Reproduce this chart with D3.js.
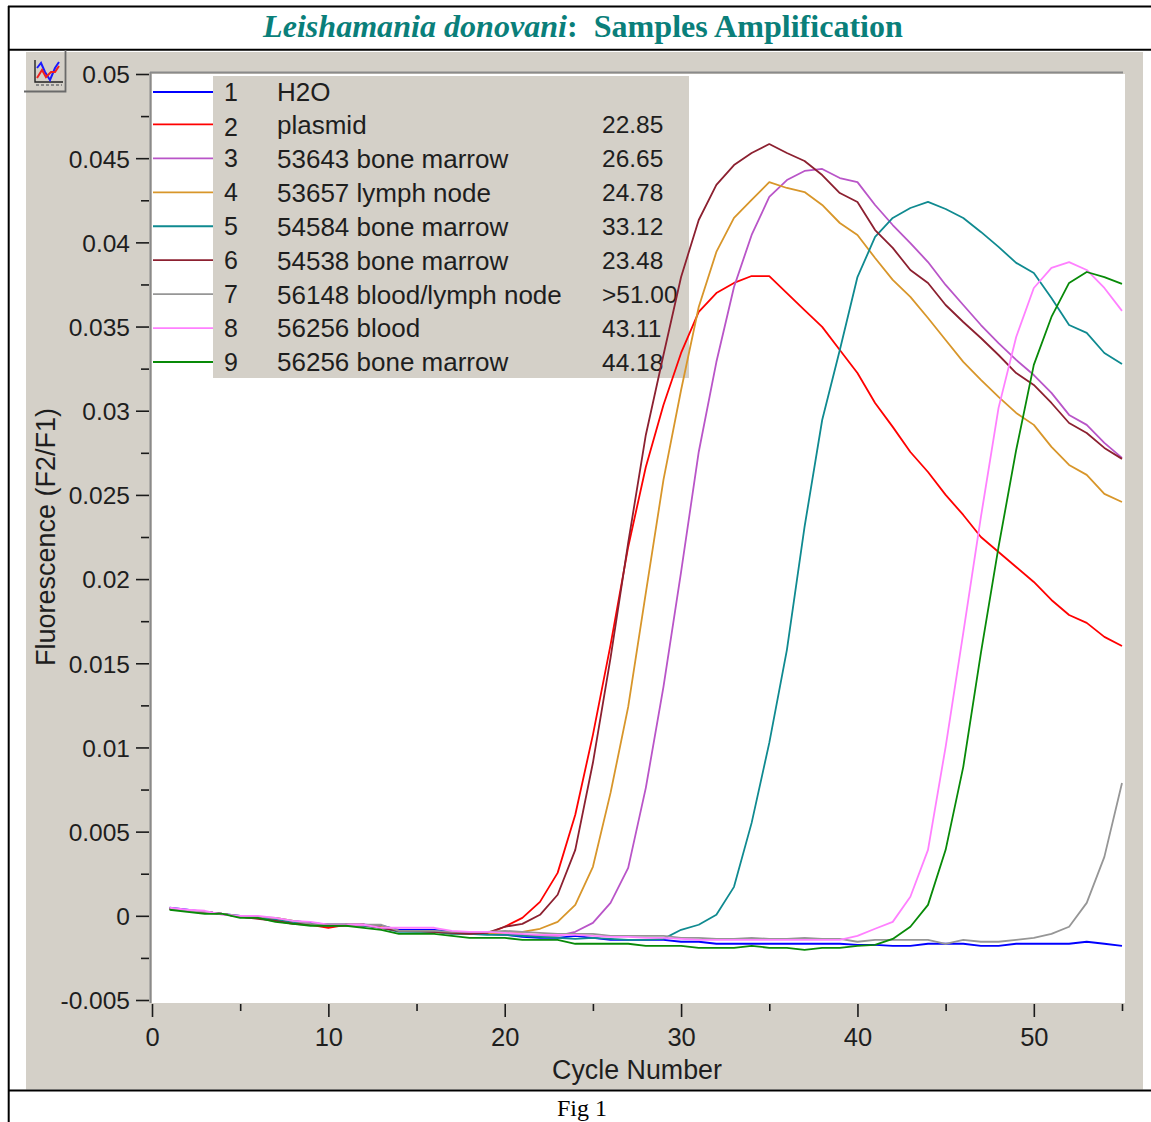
<!DOCTYPE html>
<html><head><meta charset="utf-8"><script src="https://cdn.jsdelivr.net/npm/d3@7"></script>
<style>html,body{margin:0;padding:0;background:#fff;overflow:hidden}svg{display:block}</style></head>
<body><div id="chart"></div>
<script>
const titleItalic = "Leishamania donovani";
const titleBold = ":  Samples Amplification";
const caption = "Fig 1";
const xTitle = "Cycle Number";
const yTitle = "Fluorescence (F2/F1)";
const xMajor = [0,10,20,30,40,50];
const xMinor = [5,15,25,35,45,55];
const yMajor = [0.05,0.045,0.04,0.035,0.03,0.025,0.02,0.015,0.01,0.005,0,-0.005];
const yMinor = [0.0475,0.0425,0.0375,0.0325,0.0275,0.0225,0.0175,0.0125,0.0075,0.0025,-0.0025];
const ids = [1,2,3,4,5,6,7,8,9];
const names = ["H2O","plasmid","53643 bone marrow","53657 lymph node","54584 bone marrow","54538 bone marrow","56148 blood/lymph node","56256 blood","56256 bone marrow"];
const cts = ["","22.85","26.65","24.78","33.12","23.48",">51.00","43.11","44.18"];
const colors = ["#0000ff","#ff0000","#b955c8","#d8962a","#0f8a90","#8c2030","#969696","#ff80ff","#088a08"];
const cycles = d3.range(1,56);

const s1 = [.00048,.00036,.00024,.00012,0,-.00006,-.0003,-.0003,-.00042,-.00053,-.00053,-.00053,-.00059,-.00083,-.00083,-.00083,-.00095,-.00101,-.00107,
 -.00113,-.00125,-.00131,-.00131,-.00119,-.00131,-.00143,-.00143,-.00143,-.00143,-.00154,-.00154,-.00166,-.00166,-.00166,-.00166,-.00166,-.00166,-.00166,-.00166,-.00172,-.00172,-.00178,-.00178,-.00166,-.00166,-.00166,-.00178,-.00178,-.00166,-.00166,-.00166,-.00166,-.00154,-.00166,-.00178];
const s2 = [.00042,.0003,.00024,.00012,-.00006,-.00012,-.00024,-.00042,-.00053,-.00071,-.00053,-.00053,-.00071,-.00089,-.00089,-.00095,-.00101,-.00107,-.00107,
 -.00065,-.00012,.00083,.00255,.006,.01075,.01609,.02191,.02666,.03034,.03343,.03587,.03699,.03759,.038,.038,.03699,.03598,.03498,.03361,.03224,.03046,.02904,.02755,.02636,.025,.02381,.0225,.02161,.02072,.01983,.01876,.01787,.0174,.01657,.01603];
const s3 = [.00042,.0003,.00024,.00012,-.00006,-.00012,-.00024,-.00036,-.00048,-.00053,-.00053,-.00059,-.00065,-.00089,-.00089,-.00095,-.00101,-.00107,-.00107,
 -.00113,-.00113,-.00119,-.00119,-.00095,-.00042,.00077,.00285,.0076,.0136,.02043,.02755,.03289,.03735,.04044,.0427,.0437,.04424,.04436,.04382,.04358,.04222,.04103,.03996,.03883,.03747,.03628,.03509,.03402,.03302,.03212,.03106,.02975,.02916,.02809,.0272];
const s4 = [.00042,.0003,.00024,.00012,-.00006,-.00012,-.00012,-.0003,-.00048,-.00053,-.00053,-.00059,-.00065,-.00089,-.00095,-.00095,-.00107,-.00107,-.00107,
 -.00101,-.00095,-.00077,-.00036,.00065,.00291,.0073,.01241,.01918,.02589,.03123,.03616,.03943,.04145,.04252,.04358,.04323,.04299,.04222,.04115,.04044,.03907,.03777,.03676,.03551,.0342,.0329,.03183,.03082,.02987,.02916,.02785,.02678,.02619,.02506,.02458];
const s5 = [.00042,.0003,.00024,.00012,-.00006,-.00012,-.00024,-.00036,-.00048,-.00053,-.00053,-.00059,-.00071,-.00095,-.00095,-.00095,-.00107,-.00107,-.00113,
 -.00113,-.00119,-.00125,-.00131,-.00137,-.00131,-.00137,-.00143,-.00143,-.00137,-.00083,-.00053,.00006,.00172,.00552,.01027,.0158,.0231,.02945,.03361,.03794,.04032,.04145,.04204,.0424,.04198,.04145,.04062,.03973,.03878,.03818,.0367,.03509,.03462,.03343,.03278];
const s6 = [.00042,.0003,.00018,.00012,-.00006,-.00018,-.0003,-.00048,-.00053,-.00059,-.00059,-.00053,-.00071,-.00089,-.00089,-.00095,-.00101,-.00107,-.00101,
 -.00065,-.00048,.00006,.00125,.00392,.00909,.01532,.02215,.02856,.03331,.03794,.04133,.04341,.04459,.04531,.04584,.04531,.04483,.044,.04293,.0424,.04073,.03967,.03836,.03759,.03628,.03527,.03432,.03331,.03224,.03153,.03046,.02927,.02868,.02779,.02714];
const s7 = [.00042,.0003,.00024,.00012,0,-.00006,-.00012,-.0003,-.00048,-.00053,-.00053,-.00053,-.00053,-.00089,-.00089,-.00089,-.00095,-.00095,-.00095,
 -.00089,-.00095,-.00101,-.00107,-.00107,-.00107,-.00119,-.00119,-.00119,-.00119,-.00131,-.00131,-.00137,-.00137,-.00131,-.00137,-.00137,-.00131,-.00137,-.00137,-.00154,-.00143,-.00143,-.00143,-.00143,-.00166,-.00143,-.00154,-.00154,-.00143,-.00131,-.00107,-.00065,.00077,.0035,.00789];
const s8 = [.00048,.00036,.0003,.00006,0,0,-.00012,-.0003,-.00036,-.00053,-.00053,-.00053,-.00071,-.00071,-.00071,-.00071,-.00089,-.00095,-.00095,
 -.00101,-.00107,-.00113,-.00113,-.00113,-.00119,-.00125,-.00125,-.00131,-.00131,-.00137,-.00143,-.00143,-.00143,-.00143,-.00143,-.00143,-.00143,-.00143,-.00143,-.00119,-.00077,-.00036,.00113,.00392,.01004,.0168,.02369,.03017,.03438,.03729,.03848,.03883,.03836,.03729,.03593];
const s9 = [.00036,.00024,.00012,.00012,-.00012,-.00012,-.00036,-.00048,-.00059,-.00059,-.00059,-.00071,-.00083,-.00107,-.00107,-.00107,-.00119,-.00131,-.00131,
 -.00131,-.00143,-.00143,-.00143,-.00166,-.00166,-.00166,-.00166,-.00178,-.00178,-.00178,-.0019,-.0019,-.0019,-.00178,-.0019,-.0019,-.00202,-.0019,-.0019,-.00178,-.00172,-.00137,-.00065,.00065,.00392,.00885,.01562,.02191,.02767,.03272,.03557,.03759,.03824,.03794,.03753];
const series = [s1,s2,s3,s4,s5,s6,s7,s8,s9];

const W = 1151, H = 1122;
const font = "'Liberation Sans', Arial, sans-serif";
const ink = "#1e1e1e";
const panel = "#d4d0c8";
const svg = d3.select("#chart").append("svg").attr("width",W).attr("height",H);
const x = d3.scaleLinear().domain([0,55]).range([152,1122]);
const y = d3.scaleLinear().domain([-0.005,0.05]).range([1000,74]);

// frame
const rule = (x1,y1,x2,y2,w)=>svg.append("line").attr("x1",x1).attr("y1",y1).attr("x2",x2).attr("y2",y2).attr("stroke","#000").attr("stroke-width",w);
svg.append("rect").attr("x",26).attr("y",52).attr("width",1117).attr("height",1037.5).attr("fill",panel);
rule(8,6.5,W,6.5,2); rule(8,49.8,W,49.8,2); rule(8,1090.5,W,1090.5,2); rule(8.7,6,8.7,H,2);

// title
const t = svg.append("text").attr("x",583).attr("y",37).attr("text-anchor","middle").attr("font-family","'Liberation Serif', 'Times New Roman', serif").attr("font-size",32.1).attr("font-weight","bold").attr("fill","#0a7f7a").attr("xml:space","preserve").style("white-space","pre");
t.append("tspan").attr("font-style","italic").text(titleItalic);
t.append("tspan").text(titleBold);
svg.append("text").attr("x",582).attr("y",1116).attr("text-anchor","middle").attr("font-family","'Liberation Serif', 'Times New Roman', serif").attr("font-size",24).attr("fill","#000").text(caption);

// plot area
svg.append("rect").attr("x",152).attr("y",74).attr("width",973).attr("height",929).attr("fill","#fff");
svg.append("line").attr("x1",150).attr("x2",1123).attr("y1",72.5).attr("y2",72.5).attr("stroke","#8a8a8a").attr("stroke-width",2);
svg.append("line").attr("x1",150.5).attr("x2",150.5).attr("y1",72).attr("y2",1003).attr("stroke","#8a8a8a").attr("stroke-width",2);

// axes
function styleAxis(size){ return g=>{ g.select(".domain").remove(); g.selectAll("line").attr("stroke","#1a1a1a").attr("stroke-width",1.6); g.selectAll("text").attr("font-family",font).attr("font-size",size).attr("fill",ink); }; }
svg.append("g").attr("transform","translate(149,0)").call(d3.axisLeft(y).tickValues(yMajor).tickSize(13).tickPadding(6).tickFormat(d=>String(d))).call(styleAxis(24.5)).selectAll("text").attr("dy","0.36em");
svg.append("g").attr("transform","translate(149,0)").call(d3.axisLeft(y).tickValues(yMinor).tickSize(8).tickFormat("")).call(styleAxis(24.5));
svg.append("g").attr("transform","translate(0,1004)").call(d3.axisBottom(x).tickValues(xMajor).tickSize(13).tickPadding(11).tickFormat(d=>String(d))).call(styleAxis(25.5));
svg.append("g").attr("transform","translate(0,1004)").call(d3.axisBottom(x).tickValues(xMinor).tickSize(7).tickFormat("")).call(styleAxis(25.5));
svg.append("text").attr("x",637).attr("y",1079).attr("text-anchor","middle").attr("font-family",font).attr("font-size",26.8).attr("fill",ink).text(xTitle);
svg.append("text").attr("transform","translate(55,537) rotate(-90)").attr("text-anchor","middle").attr("font-family",font).attr("font-size",27).attr("fill",ink).text(yTitle);

// legend
const legendY = d3.scalePoint().domain(ids).range([90.5,362]);
svg.append("rect").attr("x",213).attr("y",76).attr("width",476).attr("height",302).attr("fill",panel);
const row = svg.append("g").selectAll("g").data(ids).join("g").attr("transform",d=>`translate(0,${legendY(d)+(d===1?1.5:0)})`);
row.append("line").attr("x1",153).attr("x2",213).attr("stroke-width",1.8).attr("stroke",(d,i)=>colors[i]);
const lt = (cx,size,acc)=>row.append("text").attr("x",cx).attr("dy","0.36em").attr("font-family",font).attr("font-size",size).attr("fill",ink).text(acc);
lt(224,25,d=>d).attr("y",d=>d===2?3:0); lt(277,26,(d,i)=>names[i]); lt(602,24.5,(d,i)=>cts[i]);

// curves
const line = d3.line().x((d,i)=>x(cycles[i])).y(d=>y(d));
svg.append("g").attr("fill","none").attr("stroke-width",1.8).attr("stroke-linejoin","round").selectAll("path").data(series).join("path").attr("d",line).attr("stroke",(d,i)=>colors[i]);

// toolbar button
const iconBlue = [[1,8],[5,3],[9,12],[14,20],[19,8],[23,2]];
const iconRed = [[1,18],[6,10],[10,17],[15,12],[19,12],[23,6]];
const ic = svg.append("g").attr("transform","translate(26,52)");
ic.append("rect").attr("width",39).attr("height",39).attr("fill",panel);
ic.append("path").attr("d","M-2 39.5H39.5V-2").attr("fill","none").attr("stroke","#6a6a6a").attr("stroke-width",1.8);
ic.append("path").attr("d","M9 8V30H37").attr("fill","none").attr("stroke","#222").attr("stroke-width",1.4);
ic.append("path").attr("d","M10 33H36").attr("stroke","#888").attr("stroke-width",2).attr("stroke-dasharray","3 2");
const ic2 = ic.append("g").attr("transform","translate(10,8)");
const icl = d3.line();
ic2.append("path").attr("d",icl(iconBlue)).attr("fill","none").attr("stroke","#1a1aff").attr("stroke-width",2);
ic2.append("path").attr("d",icl(iconRed)).attr("fill","none").attr("stroke","#f02020").attr("stroke-width",2);
</script></body></html>
